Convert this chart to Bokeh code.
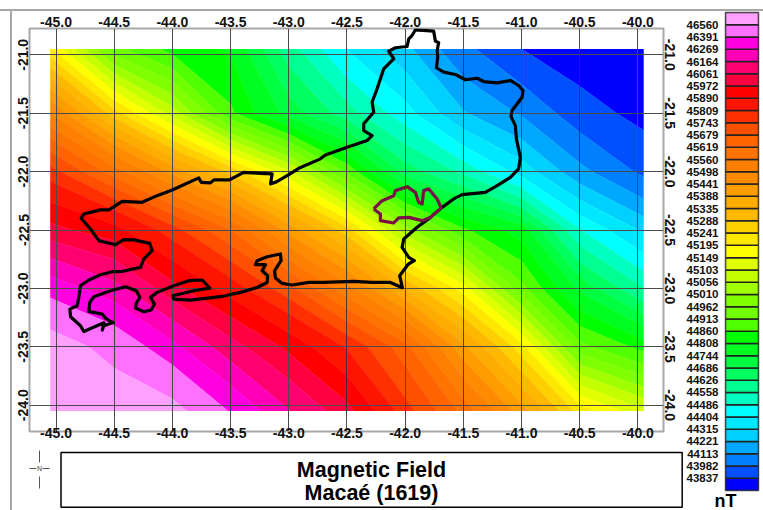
import numpy as np
from bokeh.embed import file_html
from bokeh.resources import INLINE
from bokeh.plotting import figure
from bokeh.layouts import row, column
from bokeh.models import Range1d, LinearAxis, FixedTicker, PrintfTickFormatter, Grid, Div
from bokeh.core.properties import value

FONT = "Liberation Sans"

# ---- data -------------------------------------------------------------
level_labels = [46560, 46391, 46269, 46164, 46061, 45972, 45890, 45809, 45743, 45679,
                45619, 45560, 45498, 45441, 45388, 45335, 45288, 45241, 45195, 45149,
                45103, 45056, 45010, 44962, 44913, 44860, 44808, 44744, 44686, 44626,
                44558, 44486, 44404, 44315, 44221, 44113, 43982, 43837]
band_colors = ["#FFA0FF", "#FF70FF", "#FF00E0", "#FF00B8", "#FF0070", "#FF0040", "#FF0000",
               "#FF1400", "#FF3000", "#FF5000", "#FF6400", "#FF7400", "#FF8000", "#FF8C00",
               "#FF9C00", "#FFAC00", "#FFB800", "#FFD000", "#FFE800", "#FFFF00", "#E0FF00",
               "#C4FF00", "#A0FF00", "#80FF00", "#70FF00", "#50FF00", "#00FF00", "#00FF20",
               "#00FF40", "#00FF60", "#00FF90", "#00FFC0", "#00FFFF", "#00E8FF", "#00D0FF",
               "#00A8FF", "#0080FF", "#0050FF", "#0000FF"]

grid_lon = [-45.05, -44.5, -44.0, -43.5, -43.0, -42.5, -42.0, -41.5, -41.0, -40.5, -39.95]
grid_lat = [-24.05, -23.5, -23.0, -22.5, -22.0, -21.5, -20.95]
field_m240 = [46750, 46680, 46620, 46380, 46170, 46000, 45770, 45600, 45410, 45220, 45110]
field_m235 = [46650, 46500, 46300, 46100, 45950, 45800, 45640, 45400, 45210, 44930, 44840]
field_m230 = [46340, 46200, 46000, 45850, 45700, 45520, 45330, 45170, 44930, 44730, 44560]
field_m225 = [46000, 45920, 45770, 45620, 45420, 45260, 45030, 44870, 44780, 44490, 44300]
field_m220 = [45770, 45590, 45420, 45270, 45110, 44900, 44660, 44540, 44370, 44150, 43950]
field_m215 = [45500, 45260, 45080, 44870, 44720, 44590, 44440, 44230, 44100, 43900, 43790]
field_m210 = [45200, 44930, 44840, 44800, 44590, 44400, 44250, 44020, 43837, 43750, 43700]

state_lon = [-41.940, -41.912, -41.755, -41.740, -41.712, -41.725, -41.720, -41.731, -41.669, -41.568,
             -41.482, -41.382, -41.325, -41.210, -41.096, -41.025, -40.987, -40.995, -41.081, -41.090,
             -41.053, -41.044, -41.010, -41.025, -41.096, -41.210, -41.311, -41.511, -41.583, -41.683,
             -41.783, -41.897, -42.012, -42.026, -41.969, -41.921, -41.972, -42.047, -42.024, -42.127,
             -42.284, -42.442, -42.700, -42.828, -42.971, -43.057, -43.114, -43.123, -43.066, -43.072,
             -43.186, -43.272, -43.286, -43.200, -43.229, -43.181, -43.186, -43.272, -43.415, -43.587,
             -43.845, -43.988, -43.997, -43.816, -43.679, -43.744, -43.859, -43.988, -44.131, -44.188,
             -44.154, -44.182, -44.246, -44.317, -44.309, -44.280, -44.309, -44.403, -44.532, -44.675,
             -44.710, -44.718, -44.603, -44.575, -44.532, -44.509, -44.589, -44.603, -44.589, -44.761,
             -44.790, -44.875, -44.881, -44.818, -44.804, -44.790, -44.718, -44.618, -44.517, -44.446,
             -44.274, -44.246, -44.174, -44.194, -44.332, -44.418, -44.489, -44.632, -44.704, -44.784,
             -44.761, -44.618, -44.546, -44.431, -44.260, -44.131, -44.002, -43.773, -43.753, -43.673,
             -43.644, -43.510, -43.387, -43.243, -43.143, -43.157, -43.114, -43.014, -42.914, -42.728,
             -42.685, -42.499, -42.327, -42.284, -42.356, -42.356, -42.270, -42.284, -42.241, -42.184,
             -42.098, -42.141, -42.084, -41.983, -41.969, -41.940]
state_lat = [-20.835, -20.786, -20.798, -20.883, -20.897, -20.963, -21.021, -21.111, -21.149, -21.169,
             -21.214, -21.201, -21.229, -21.240, -21.220, -21.263, -21.306, -21.363, -21.477, -21.529,
             -21.606, -21.720, -21.878, -21.977, -22.049, -22.120, -22.178, -22.197, -22.234, -22.306,
             -22.392, -22.477, -22.577, -22.649, -22.735, -22.763, -22.791, -22.891, -22.994, -22.949,
             -22.949, -22.940, -22.949, -22.949, -22.971, -22.957, -22.911, -22.849, -22.763, -22.705,
             -22.729, -22.763, -22.797, -22.797, -22.849, -22.891, -22.949, -22.992, -23.034, -23.071,
             -23.100, -23.091, -23.063, -23.020, -22.997, -22.928, -22.934, -22.977, -23.034, -23.077,
             -23.134, -23.185, -23.200, -23.168, -23.125, -23.077, -23.020, -22.986, -23.020, -23.071,
             -23.120, -23.197, -23.220, -23.254, -23.283, -23.292, -23.320, -23.357, -23.294, -23.369,
             -23.320, -23.243, -23.177, -23.148, -23.077, -22.977, -22.928, -22.883, -22.857, -22.857,
             -22.820, -22.748, -22.677, -22.615, -22.585, -22.583, -22.626, -22.591, -22.491, -22.400,
             -22.363, -22.328, -22.328, -22.255, -22.263, -22.206, -22.157, -22.054, -22.092, -22.097,
             -22.071, -22.071, -22.006, -22.015, -22.020, -22.105, -22.092, -22.034, -21.972, -21.891,
             -21.857, -21.792, -21.734, -21.692, -21.649, -21.591, -21.492, -21.406, -21.291, -21.120,
             -21.034, -20.969, -20.940, -20.929, -20.863, -20.835]
macae_lon = [-42.270, -42.198, -42.098, -42.084, -41.983, -41.912, -41.884, -41.854, -41.841, -41.798,
             -41.725, -41.691, -41.783, -41.854, -41.969, -42.055, -42.098, -42.213, -42.213, -42.270]
macae_lat = [-22.320, -22.249, -22.206, -22.163, -22.129, -22.178, -22.263, -22.277, -22.163, -22.148,
             -22.234, -22.311, -22.392, -22.420, -22.392, -22.397, -22.440, -22.420, -22.363, -22.320]

lon_ticks = [-45.0, -44.5, -44.0, -43.5, -43.0, -42.5, -42.0, -41.5, -41.0, -40.5, -40.0]
lat_ticks = [-21.0, -21.5, -22.0, -22.5, -23.0, -23.5, -24.0]
title_lines = ["Magnetic Field", "Macaé (1619)"]
unit_label = "nT"

# ---- map ---------------------------------------------------------------
GRAY = "#A8A8A8"
z = np.array([field_m240, field_m235, field_m230, field_m225, field_m220, field_m215, field_m210], dtype=float)
levels = [43000] + level_labels[::-1] + [47500]
fills = band_colors[::-1]

m = figure(width=671, height=438, output_backend="svg", toolbar_location=None, frame_align=False,
           x_range=Range1d(-45.228, -39.78), y_range=Range1d(-24.225, -20.775),
           x_axis_location=None, y_axis_location=None,
           min_border_left=17, min_border_right=20, min_border_top=17, min_border_bottom=18,
           outline_line_color=GRAY, outline_line_width=2, background_fill_color="white")
cr = m.contour(grid_lon, grid_lat, z, levels, fill_color=fills, line_color=fills + [fills[-1]], line_width=0.7)
cr.level = "image"

def style_axis(ax, ticks, orient, standoff):
    ax.ticker = FixedTicker(ticks=ticks)
    ax.formatter = PrintfTickFormatter(format="%.1f")
    ax.axis_line_color = None
    ax.major_tick_line_color = None
    ax.minor_tick_line_color = None
    ax.major_label_text_font = FONT
    ax.major_label_text_font_style = "bold"
    ax.major_label_text_font_size = "14px"
    ax.major_label_text_color = "#111111"
    ax.major_label_orientation = orient
    ax.major_label_standoff = standoff
    ax.major_tick_out = 0
    ax.major_tick_in = 0

for side, ticks, orient, st in [("below", lon_ticks, "horizontal", -4), ("above", lon_ticks, "horizontal", 2),
                                ("left", lat_ticks, "parallel", 1), ("right", lat_ticks, "parallel", 1)]:
    ax = LinearAxis()
    style_axis(ax, ticks, orient, st)
    m.add_layout(ax, side)

gx = Grid(dimension=0, ticker=FixedTicker(ticks=lon_ticks), grid_line_color="#303030", grid_line_width=1, grid_line_alpha=0.85)
gy = Grid(dimension=1, ticker=FixedTicker(ticks=lat_ticks), grid_line_color="#303030", grid_line_width=1, grid_line_alpha=0.85)
m.add_layout(gx)
m.add_layout(gy)

m.line(state_lon, state_lat, line_color="black", line_width=3.2, line_join="round")
m.line(macae_lon, macae_lat, line_color="#7A1048", line_width=3.2, line_join="round")

# ---- title panel ---------------------------------------------------------
t = figure(width=671, height=61, output_backend="svg", toolbar_location=None, frame_align=False,
           x_range=Range1d(0, 671), y_range=Range1d(61, 0),
           x_axis_location=None, y_axis_location=None,
           min_border=0, outline_line_color=None)
t.xgrid.visible = False
t.ygrid.visible = False
t.quad(left=[48.5], right=[669.7], top=[3], bottom=[57.7], fill_color="white", line_color="black", line_width=1.5)
t.text(x=[359, 359], y=[20, 43], text=title_lines, text_font=value(FONT), text_font_style="bold",
       text_font_size="21.5px", text_align="center", text_baseline="middle", text_color="black")
# north arrow
t.segment([27, 27, 17, 30], [1, 27, 19, 19], [27, 27, 24, 37], [13, 39, 19, 19], line_color="#555555", line_width=1)
t.text(x=[27], y=[19], text=["N"], text_font=value(FONT), text_font_size="7px", text_align="center",
       text_baseline="middle", text_color="#444444")

# ---- colour bar -----------------------------------------------------------
n = len(band_colors)
c = figure(width=80, height=481, output_backend="svg", toolbar_location=None, frame_align=False,
           x_range=Range1d(0, 1), y_range=Range1d(0, n),
           x_axis_location=None, y_axis_location=None,
           min_border_left=42, min_border_right=5, min_border_top=1, min_border_bottom=2,
           outline_line_color="#555555", outline_line_width=1.5)
c.xgrid.visible = False
c.ygrid.visible = False
idx = list(range(n))
c.quad(left=0, right=1, bottom=idx, top=[i + 1 for i in idx], fill_color=fills, line_color="#222222", line_width=1.5)
cax = LinearAxis()
cax.ticker = FixedTicker(ticks=list(range(1, n)))
cax.major_label_overrides = {i + 1: str(v) for i, v in enumerate(level_labels[::-1])}
cax.axis_line_color = None
cax.major_tick_line_color = None
cax.minor_tick_line_color = None
cax.major_tick_out = 0
cax.major_tick_in = 0
cax.major_label_standoff = 7
cax.major_label_text_font = FONT
cax.major_label_text_font_style = "bold"
cax.major_label_text_font_size = "11.5px"
cax.major_label_text_color = "#111111"
c.add_layout(cax, "left")

u = figure(width=80, height=18, output_backend="svg", toolbar_location=None, frame_align=False,
           x_range=Range1d(0, 80), y_range=Range1d(18, 0),
           x_axis_location=None, y_axis_location=None,
           min_border=0, outline_line_color=None)
u.xgrid.visible = False
u.ygrid.visible = False
u.text(x=[42], y=[8], text=[unit_label], text_font=value(FONT), text_font_style="bold", text_font_size="18px",
       text_align="center", text_baseline="middle", text_color="black")

top_strip = Div(width=763, height=2, margin=(9, 0, 0, 0), styles={"background-color": GRAY})
left_strip = Div(width=2, height=499, margin=(0, 0, 0, 10), styles={"background-color": GRAY})
page = column(top_strip, row(left_strip, column(m, t, spacing=0), column(c, u, spacing=0), spacing=0), spacing=0)
open("out.html", "w").write(file_html(page, INLINE))
